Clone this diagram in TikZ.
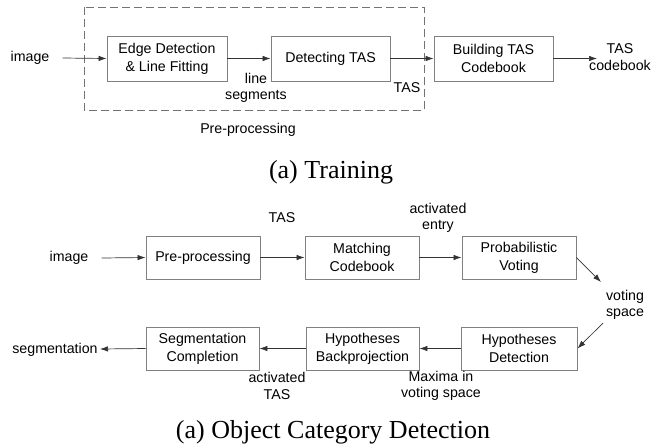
\documentclass[tikz,border=0pt]{standalone}
\usepackage{fontspec}
\setmainfont{Liberation Sans}
\newfontfamily\capfont{Liberation Serif}
\usetikzlibrary{arrows.meta,calc}
\begin{document}
\begin{tikzpicture}[x=1pt,y=-1pt,
  box/.style={draw=black!50,line width=0.9pt,minimum height=44pt,align=center,inner sep=0pt,
    font=\fontsize{14.2}{18}\selectfont},
  lbl/.style={align=center,inner sep=0pt,font=\fontsize{14.2}{16.5}\selectfont},
  captext/.style={inner sep=0pt,font=\capfont\fontsize{26}{30}\selectfont},
  conn/.style={draw=black!80,line width=0.7pt,-{Latex[length=8pt,width=5.5pt]}},
  dbox/.style={draw=black!55,line width=0.9pt,dash pattern=on 8pt off 4pt}]
\useasboundingbox (0,0) rectangle (652,445);
% ---- (a) Training ----
\draw[dbox] (84,7) rectangle (424,110);
\node[box,minimum width=120pt,minimum height=45pt] (e1) at (167,58.5) {Edge Detection\\\& Line Fitting};
\node[box,minimum width=119pt,minimum height=45pt] (e2) at (330.5,58.5) {Detecting TAS};
\node[box,minimum width=119pt,minimum height=45pt] (e3) at (493.5,58.5) {Building TAS\\Codebook};
\node[lbl] (img1) at (30,58) {image};
\node[lbl] (tcb) at (620,57) {TAS\\codebook};
\coordinate (tcbin) at (597,58.5);
\node[lbl] (ls) at (256,88) {line\\segments};
\node[lbl] (tas1) at (407,88) {TAS};
\node[lbl] (pp) at (248,130) {Pre-processing};
\node[captext] (c1) at (331,172) {(a) Training};
\draw[conn] ([xshift=13pt]img1.east) -- (e1.west);
\draw[conn] (e1.east) -- (e2.west);
\draw[conn] (e2.east) -- (e3.west);
\draw[conn] (e3.east) -- (tcbin);
% ---- (a) Object Category Detection ----
\node[box,minimum width=114pt,minimum height=43pt] (b1) at (203,257.5) {Pre-processing};
\node[box,minimum width=114pt,minimum height=43pt] (b2) at (362,257.5) {Matching\\Codebook};
\node[box,minimum width=114pt,minimum height=43pt] (b3) at (519,257.5) {Probabilistic\\Voting};
\node[box,minimum width=116pt,minimum height=43pt] (b6) at (519,348.5) {Hypotheses\\Detection};
\node[box,minimum width=113pt,minimum height=43pt] (b5) at (362.5,348.5) {Hypotheses\\Backprojection};
\node[box,minimum width=113pt,minimum height=43pt] (b4) at (202.5,348.5) {Segmentation\\Completion};
\node[lbl] (img2) at (69,258) {image};
\node[lbl] (tas2) at (282,218) {TAS};
\node[lbl] (ae) at (438,218) {activated\\entry};
\node[lbl] (vs) at (625,305) {voting\\space};
\coordinate (vsin) at (601,282);
\coordinate (vsout) at (603,323);
\node[lbl] (seg) at (55,350) {segmentation};
\coordinate (segin) at (100,349);
\node[lbl] (at) at (277,386) {activated\\TAS};
\node[lbl] (mx) at (441,386) {Maxima in\\voting space};
\node[captext] (c2) at (333,432) {(a) Object Category Detection};
\draw[conn] ([xshift=13pt]img2.east) -- (b1.west);
\draw[conn] (b1.east) -- (b2.west);
\draw[conn] (b2.east) -- (b3.west);
\draw[conn] (b3.east) -- (vsin);
\draw[conn] (vsout) -- (b6.east);
\draw[conn] (b6.west) -- (b5.east);
\draw[conn] (b5.west) -- (b4.east);
\draw[conn] (b4.west) -- (segin);
\end{tikzpicture}
\end{document}
